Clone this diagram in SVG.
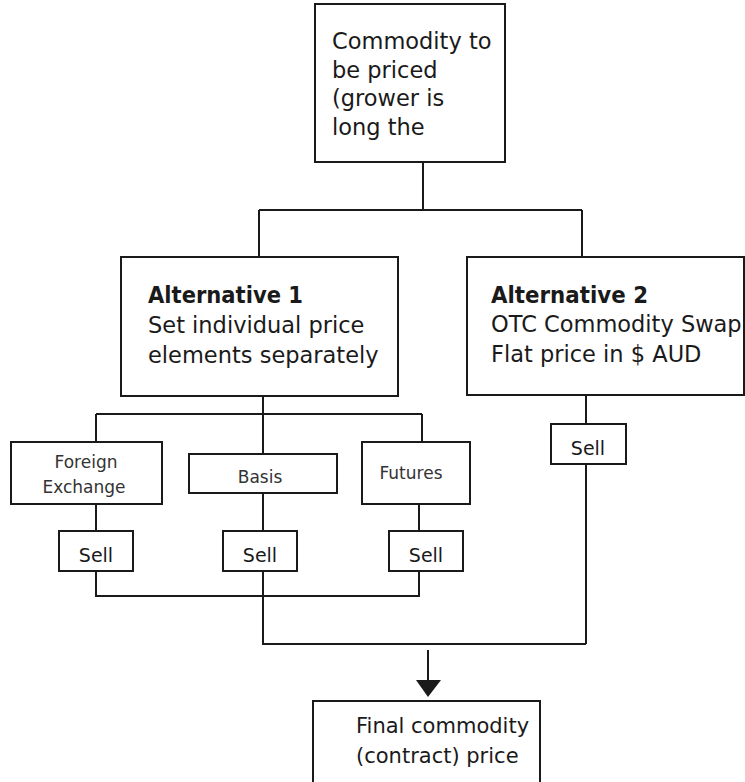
<svg xmlns="http://www.w3.org/2000/svg" width="745" height="782" viewBox="0 0 745 782">
<style>
.box{fill:#fff;stroke:#1a1a1a;stroke-width:2}
.ln{fill:none;stroke:#1a1a1a;stroke-width:2}
.t{font-family:"DejaVu Sans",Verdana,sans-serif;fill:#1a1a1a}
.big{font-size:22.5px}
.bold{font-weight:bold}
.small{font-size:17px;fill:#333}
.sell{font-size:19px;text-anchor:middle}
</style>
<rect width="745" height="782" fill="#fff"/>
<g id="connectors">
<path class="ln" d="M423,162 V210 M259,210 H582 M259,210 V257 M582,210 V257"/>
<path class="ln" d="M263,396 V454 M96,414 H422 M96,414 V442 M422,414 V442"/>
<path class="ln" d="M96,504 V531 M263,493 V531 M419,504 V531"/>
<path class="ln" d="M96,571 V596 H419 V571 M263,571 V644 H586"/>
<path class="ln" d="M586,396 V424 M586,464 V644"/>
<path class="ln" d="M428,650 V682"/>
<polygon points="416,680 441,680 428,697" fill="#1a1a1a"/>
</g>
<g id="top">
<rect class="box" x="315" y="4" width="190" height="158"/>
<text class="t big" x="332" y="49">Commodity to</text>
<text class="t big" x="332" y="78">be priced</text>
<text class="t big" x="332" y="106">(grower is</text>
<text class="t big" x="332" y="135">long the</text>
</g>
<g id="alt1">
<rect class="box" x="121" y="257" width="277" height="139"/>
<text class="t big bold" x="148" y="303" font-size="21" textLength="155" lengthAdjust="spacingAndGlyphs">Alternative 1</text>
<text class="t big" x="148" y="333">Set individual price</text>
<text class="t big" x="148" y="363">elements separately</text>
</g>
<g id="alt2">
<rect class="box" x="467" y="257" width="277" height="138"/>
<text class="t big bold" x="491" y="303" font-size="21" textLength="157" lengthAdjust="spacingAndGlyphs">Alternative 2</text>
<text class="t big" x="491" y="332">OTC Commodity Swap</text>
<text class="t big" x="491" y="362">Flat price in $ AUD</text>
</g>
<g id="fx">
<rect class="box" x="11" y="442" width="151" height="62"/>
<text class="t small" x="86" y="468" text-anchor="middle">Foreign</text>
<text class="t small" x="84" y="493" text-anchor="middle">Exchange</text>
</g>
<g id="basis">
<rect class="box" x="189" y="454" width="148" height="39"/>
<text class="t small" x="260" y="483" text-anchor="middle">Basis</text>
</g>
<g id="futures">
<rect class="box" x="362" y="442" width="108" height="62"/>
<text class="t small" x="411" y="479" text-anchor="middle">Futures</text>
</g>
<g id="sell-fx">
<rect class="box" x="59" y="531" width="74" height="40"/>
<text class="t sell" x="96" y="562">Sell</text>
</g>
<g id="sell-basis">
<rect class="box" x="223" y="531" width="74" height="40"/>
<text class="t sell" x="260" y="562">Sell</text>
</g>
<g id="sell-futures">
<rect class="box" x="389" y="531" width="74" height="40"/>
<text class="t sell" x="426" y="562">Sell</text>
</g>
<g id="sell-otc">
<rect class="box" x="551" y="424" width="75" height="40"/>
<text class="t sell" x="588" y="455">Sell</text>
</g>
<g id="final">
<rect class="box" x="313" y="701" width="227" height="90"/>
<text class="t" font-size="21" x="356" y="733">Final commodity</text>
<text class="t" font-size="21" x="356" y="763">(contract) price</text>
</g>
</svg>
